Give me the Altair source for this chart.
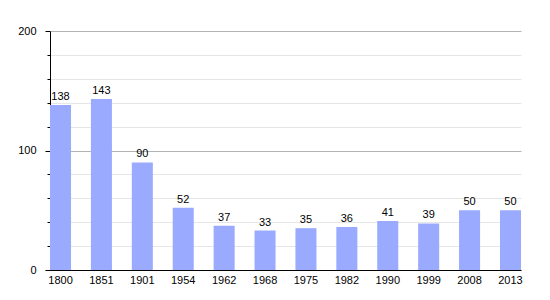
import altair as alt
import pandas as pd

years = ["1800", "1851", "1901", "1954", "1962", "1968", "1975", "1982", "1990", "1999", "2008", "2013"]
population = [138, 143, 90, 52, 37, 33, 35, 36, 41, 39, 50, 50]
y_ticks = [0, 20, 40, 60, 80, 100, 120, 140, 160, 180, 200]

df = pd.DataFrame({"year": years, "pop": population})

FONT = "Liberation Sans"

x = alt.X("year:N", sort=years,
          scale=alt.Scale(paddingInner=0.486, paddingOuter=0),
          axis=alt.Axis(title=None, labelAngle=0, ticks=False, domainColor="#000000",
                        labelColor="#000000", labelFont=FONT, labelFontSize=11,
                        labelPadding=4, grid=False))
y = alt.Y("pop:Q", scale=alt.Scale(domain=[0, 200], nice=False),
          axis=alt.Axis(title=None, values=y_ticks, grid=True, labelOverlap=False,
                        gridColor={"condition": {"test": "datum.value % 100 === 0", "value": "#b4b4b4"}, "value": "#e6e6e6"},
                        labelExpr="datum.value % 100 === 0 ? datum.label : ''",
                        tickColor="#000000",
                        tickSize={"condition": {"test": "datum.value % 100 === 0", "value": 5}, "value": 3},
                        labelPadding=9, labelColor="#000000", labelFont=FONT,
                        labelFontSize=11, domainColor="#000000"))

bars = alt.Chart(df).mark_bar(color="#99aaff").encode(x=x, y=y)
text = alt.Chart(df).mark_text(baseline="bottom", dy=-3, font=FONT, fontSize=11, color="#000000").encode(
    x=x, y=y, text="pop:Q")

chart = (bars + text).properties(
    width=471, height=239,
    autosize=alt.AutoSizeParams(type="none"),
    padding={"left": 50, "top": 31, "right": 29, "bottom": 30},
    background="#ffffff",
).configure_view(stroke=None)

chart.save("out.html", embed_options={"renderer": "svg", "actions": False})
